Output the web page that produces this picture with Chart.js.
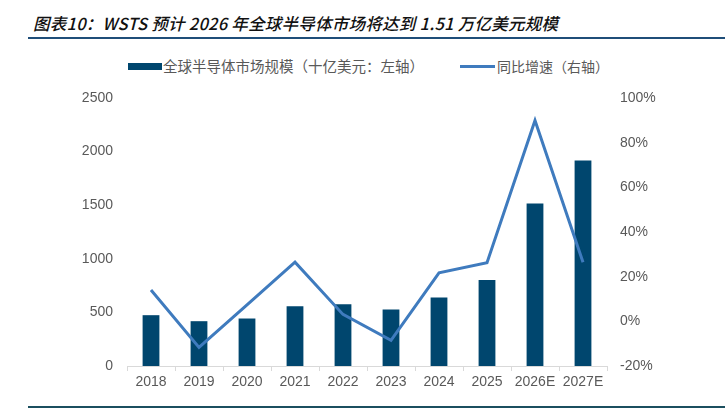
<!DOCTYPE html>
<html>
<head>
<meta charset="utf-8">
<script src="https://cdn.jsdelivr.net/npm/chart.js@4/dist/chart.umd.min.js"></script>
<style>
  html, body { margin: 0; padding: 0; background: #fff; }
  #wrap { position: relative; width: 725px; height: 412px; overflow: hidden; }
  #title { position: absolute; left: 33px; top: 12px; font-family: "Noto Sans CJK SC", sans-serif; font-style: italic; font-weight: 500; font-size: 16.5px; letter-spacing: 0.25px; color: #111; white-space: nowrap; line-height: 22px; }
  #tline { position: absolute; left: 28px; top: 37px; width: 697px; height: 2px; background: #1f4e79; }
  #bline { position: absolute; left: 28px; top: 406px; width: 697px; height: 2px; background: #1b4f5f; }
  .lg { position: absolute; font-family: "Noto Sans CJK SC", sans-serif; font-size: 14.5px; color: #595959; white-space: nowrap; line-height: 20px; top: 56px; }
  .sw { position: absolute; }
  canvas { position: absolute; left: 0; top: 0; }
</style>
</head>
<body>
<div id="wrap">
  <div id="title">图表10：WSTS 预计 2026 年全球半导体市场将达到 1.51 万亿美元规模</div>
  <div id="tline"></div>
  <div class="sw" id="sw1" style="left:128px; top:63px; width:34px; height:7px;"></div>
  <div class="lg" id="lg1" style="left:163px;"></div>
  <div class="sw" id="sw2" style="left:460px; top:65px; width:35px; height:3px;"></div>
  <div class="lg" id="lg2" style="left:497px; font-size:14px;"></div>
  <canvas id="c" width="725" height="412"></canvas>
  <div id="bline"></div>
</div>
<script>
const categories = ["2018", "2019", "2020", "2021", "2022", "2023", "2024", "2025", "2026E", "2027E"];
const marketSize = [474, 418, 443, 558, 576, 527, 638, 802, 1515, 1917];
const yoyGrowth = [14.0, -11.7, 7.4, 26.5, 3.1, -8.5, 21.7, 26.2, 89.9, 26.5];
const barLabel = "全球半导体市场规模（十亿美元：左轴）";
const lineLabel = "同比增速（右轴）";
const leftTicks = [0, 500, 1000, 1500, 2000, 2500];
const rightTicks = [-20, 0, 20, 40, 60, 80, 100];

const barColor = "#00466e";
const lineColor = "#3f7bbe";

document.getElementById("sw1").style.background = barColor;
document.getElementById("sw2").style.background = lineColor;
document.getElementById("lg1").textContent = barLabel;
document.getElementById("lg2").textContent = lineLabel;

const tickFont = { family: "Liberation Sans, Arial, sans-serif", size: 14 };

new Chart(document.getElementById("c"), {
  data: {
    labels: categories,
    datasets: [
      { type: "line", label: lineLabel, data: yoyGrowth, yAxisID: "y1", borderColor: lineColor, backgroundColor: lineColor,
        borderWidth: 3, pointRadius: 0, tension: 0, order: 0 },
      { type: "bar", label: barLabel, data: marketSize, yAxisID: "y", backgroundColor: barColor,
        categoryPercentage: 1, barPercentage: 0.35, order: 1 }
    ]
  },
  options: {
    responsive: false,
    animation: false,
    devicePixelRatio: 1,
    layout: { padding: { top: 98, left: 0, right: 0, bottom: 0 } },
    plugins: { legend: { display: false }, tooltip: { enabled: false }, title: { display: false } },
    scales: {
      x: {
        offset: true,
        grid: { display: true, drawOnChartArea: false, drawTicks: true, tickLength: 5, color: "#d9d9d9", offset: true },
        border: { display: true, color: "#d9d9d9", width: 1 },
        ticks: { color: "#595959", font: tickFont, padding: 3, maxRotation: 0, autoSkip: false },
        afterFit: s => { s.height = 46; }
      },
      y: {
        position: "left", min: 0, max: 2500,
        afterBuildTicks: s => { s.ticks = leftTicks.map(v => ({ value: v })); },
        grid: { display: false, drawTicks: false },
        border: { display: false },
        ticks: { color: "#595959", font: tickFont, padding: 14, callback: v => String(v) },
        afterFit: s => { s.width = 127; }
      },
      y1: {
        position: "right", min: -20, max: 100,
        afterBuildTicks: s => { s.ticks = rightTicks.map(v => ({ value: v })); },
        grid: { display: false, drawTicks: false },
        border: { display: false },
        ticks: { color: "#595959", font: tickFont, padding: 13, callback: v => v + "%" },
        afterFit: s => { s.width = 118; }
      }
    }
  }
});
</script>
</body>
</html>
